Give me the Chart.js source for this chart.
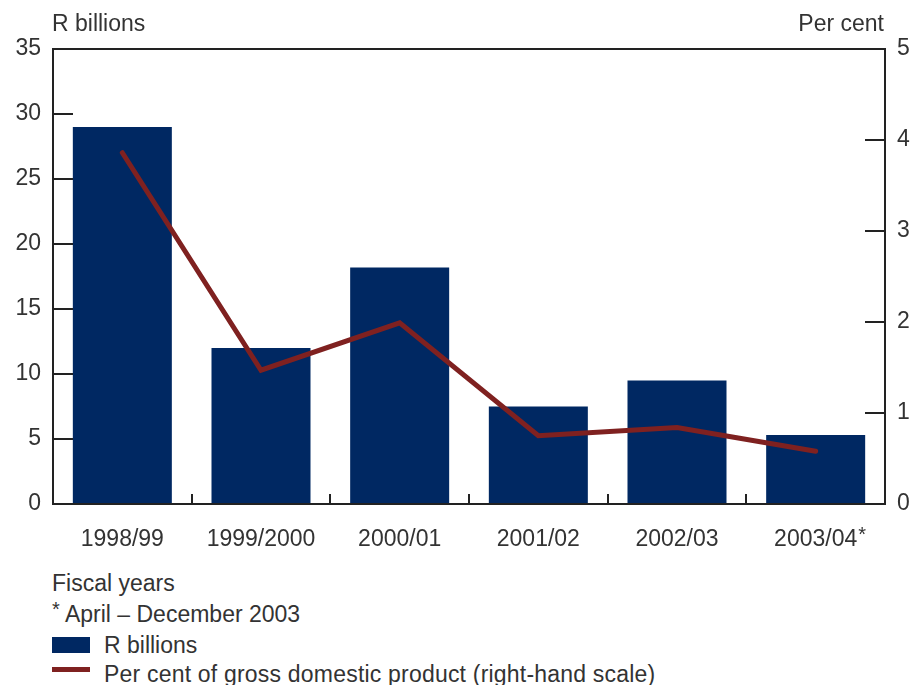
<!DOCTYPE html>
<html>
<head>
<meta charset="utf-8">
<script src="https://cdn.jsdelivr.net/npm/chart.js@4.4.1/dist/chart.umd.min.js"></script>
<style>
  html, body { margin: 0; padding: 0; background: #fff; }
  body { width: 916px; height: 685px; position: relative; overflow: hidden;
         font-family: "Liberation Sans", Arial, sans-serif; color: #333; }
  #wrap { position: absolute; left: 0; top: 0; width: 916px; height: 560px; }
  .note { position: absolute; left: 52px; font-size: 23px; line-height: 26px; color: #333; white-space: nowrap; }
  .sw { position: absolute; left: 52px; }
</style>
</head>
<body>
<div id="wrap"><canvas id="c" width="916" height="560"></canvas></div>
<div class="note" style="top:570px;">Fiscal years</div>
<div class="note" style="top:601px;"><span style="position:relative;top:-6px;font-size:20px;">*</span> April – December 2003</div>
<div class="sw" id="sw1" style="top:637px;width:38px;height:16px;"></div>
<div class="note" id="lg1" style="left:104px;top:632px;"></div>
<div class="sw" id="sw2" style="top:667px;width:38px;height:5px;"></div>
<div class="note" id="lg2" style="left:104px;top:661px;letter-spacing:0.2px;"></div>
<script>
const categories = ["1998/99", "1999/2000", "2000/01", "2001/02", "2002/03", "2003/04"];
const randBillions = [29.0, 12.0, 18.2, 7.5, 9.5, 5.3];
const pctOfGDP = [3.86, 1.47, 1.99, 0.75, 0.84, 0.58];
const leftTicks = [0, 5, 10, 15, 20, 25, 30, 35];
const rightTicks = [0, 1, 2, 3, 4, 5];
const barLabel = "R billions";
const lineLabel = "Per cent of gross domestic product (right-hand scale)";
const asteriskIndex = 5;

const NAVY = "#002862";
const RED = "#7f2120";
const INK = "#222";
const TXT = "#333";
const FONT = "Liberation Sans";
const FS = 23;

document.getElementById("sw1").style.background = NAVY;
document.getElementById("sw2").style.background = RED;
document.getElementById("lg1").textContent = barLabel;
document.getElementById("lg2").textContent = lineLabel;

const framePlugin = {
  id: "frame",
  afterDraw(chart) {
    const ctx = chart.ctx, a = chart.chartArea;
    const yl = chart.scales.y, yr = chart.scales.y2, x = chart.scales.x;
    ctx.save();
    ctx.strokeStyle = INK;
    ctx.lineWidth = 2;
    ctx.strokeRect(a.left, a.top, a.right - a.left, a.bottom - a.top);
    ctx.beginPath();
    leftTicks.slice(1, -1).forEach(v => {
      const p = Math.round(yl.getPixelForValue(v));
      ctx.moveTo(a.left, p); ctx.lineTo(a.left + 20, p);
    });
    rightTicks.slice(1, -1).forEach(v => {
      const p = Math.round(yr.getPixelForValue(v));
      ctx.moveTo(a.right, p); ctx.lineTo(a.right - 20, p);
    });
    for (let i = 0; i < categories.length - 1; i++) {
      const p = Math.round((x.getPixelForValue(i) + x.getPixelForValue(i + 1)) / 2);
      ctx.moveTo(p, a.bottom); ctx.lineTo(p, a.bottom - 10);
    }
    ctx.stroke();
    // axis titles
    ctx.fillStyle = TXT;
    ctx.font = FS + "px '" + FONT + "'";
    ctx.textBaseline = "middle";
    ctx.textAlign = "left";
    ctx.fillText("R billions", a.left - 1, 25);
    ctx.textAlign = "right";
    ctx.fillText("Per cent", a.right - 1, 25);
    // asterisk on last label
    const lbl = categories[asteriskIndex];
    const w = ctx.measureText(lbl).width;
    const cx = x.getPixelForValue(asteriskIndex);
    ctx.textAlign = "left";
    ctx.font = "20px '" + FONT + "'";
    ctx.fillText("*", cx + w / 2 + 1, 535);
    ctx.restore();
  }
};

new Chart(document.getElementById("c"), {
  data: {
    labels: categories,
    datasets: [
      {
        type: "line", label: lineLabel, data: pctOfGDP, yAxisID: "y2",
        borderColor: RED, borderWidth: 5, pointRadius: 0, tension: 0,
        borderCapStyle: "round", borderJoinStyle: "miter", order: 0
      },
      {
        type: "bar", label: barLabel, data: randBillions, yAxisID: "y",
        backgroundColor: NAVY, categoryPercentage: 1.0, barPercentage: 0.714, order: 1
      }
    ]
  },
  options: {
    responsive: false,
    animation: false,
    layout: { padding: { top: 49, left: 0, right: 0, bottom: 0 } },
    plugins: { legend: { display: false }, tooltip: { enabled: false } },
    scales: {
      x: {
        grid: { display: false }, border: { display: false },
        ticks: { color: TXT, font: { family: FONT, size: FS }, padding: 14, maxRotation: 0 },
        afterFit(s) { s.height = 56; }
      },
      y: {
        position: "left", min: 0, max: 35,
        grid: { display: false, drawTicks: false }, border: { display: false },
        afterBuildTicks(s) { s.ticks = leftTicks.map(v => ({ value: v })); },
        ticks: { color: TXT, font: { family: FONT, size: FS }, padding: 12 },
        afterFit(s) { s.width = 53; }
      },
      y2: {
        position: "right", min: 0, max: 5,
        grid: { display: false, drawTicks: false }, border: { display: false },
        afterBuildTicks(s) { s.ticks = rightTicks.map(v => ({ value: v })); },
        ticks: { color: TXT, font: { family: FONT, size: FS }, padding: 12 },
        afterFit(s) { s.width = 31; }
      }
    }
  },
  plugins: [framePlugin]
});
</script>
</body>
</html>
